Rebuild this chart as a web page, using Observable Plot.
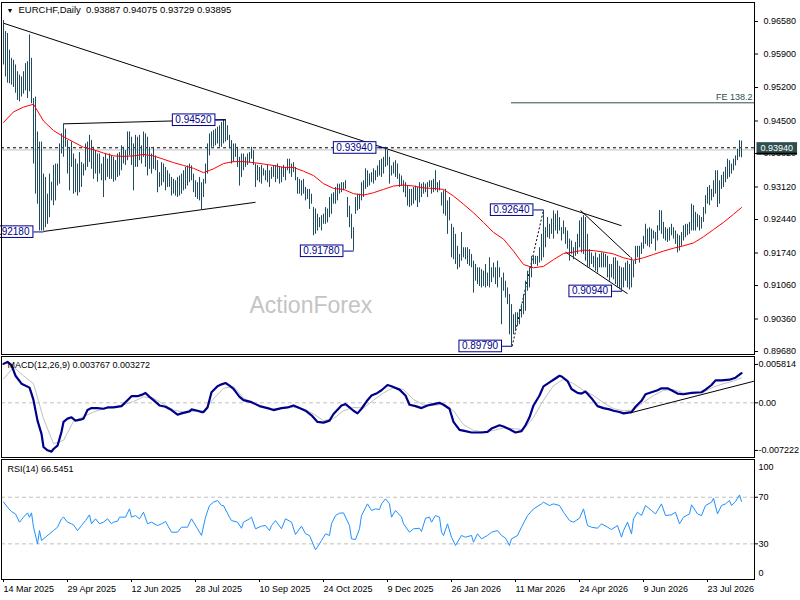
<!DOCTYPE html>
<html><head><meta charset="utf-8">
<script src="https://cdn.jsdelivr.net/npm/d3@7"></script>
<script src="https://cdn.jsdelivr.net/npm/@observablehq/plot@0.6"></script>
<style>
body{margin:0;background:#fff;}
#wrap{position:relative;width:800px;height:600px;overflow:hidden;background:#fff;}
#wrap svg{position:absolute;left:0;}
</style></head><body><div id="wrap"></div>
<script>
// ---------- DATA (prices in units of 0.0001) ----------
const high = [
9660,9637,9633,9598,9581,9577,9567,9553,9546,9542,
9553,9570,9574,9630,9581,9497,9500,9427,9406,9406,
9339,9332,9297,9339,9322,9357,9360,9360,9402,9423,
9444,9433,9409,9395,9406,9381,9370,9360,9384,9363,
9360,9402,9406,9420,9409,9395,9388,9381,9381,9360,
9374,9381,9370,9381,9377,9374,9367,9381,9384,9398,
9395,9388,9427,9427,9416,9402,9420,9416,9420,9398,
9427,9423,9416,9395,9381,9395,9377,9367,9342,9363,
9360,9353,9346,9339,9332,9328,9325,9332,9335,9339,
9346,9353,9356,9360,9356,9339,9325,9321,9332,9321,
9328,9360,9402,9423,9427,9430,9433,9437,9440,9447,
9451,9453,9440,9420,9409,9402,9402,9395,9374,9381,
9381,9374,9381,9384,9395,9388,9360,9357,9353,9357,
9350,9346,9357,9346,9353,9357,9357,9360,9353,9353,
9357,9353,9370,9370,9360,9363,9353,9332,9328,9325,
9328,9311,9307,9307,9297,9269,9266,9255,9248,9252,
9255,9269,9266,9290,9297,9300,9311,9318,9318,9321,
9321,9325,9290,9272,9255,9227,9290,9297,9297,9321,
9325,9350,9346,9339,9342,9350,9346,9356,9367,9370,
9374,9395,9388,9374,9356,9363,9367,9360,9339,9335,
9325,9321,9314,9307,9307,9311,9314,9311,9321,9318,
9321,9318,9321,9325,9325,9328,9346,9321,9325,9300,
9304,9307,9283,9290,9234,9227,9213,9188,9171,9217,
9185,9185,9185,9181,9171,9157,9150,9143,9143,9139,
9136,9150,9132,9164,9143,9153,9143,9157,9143,9122,
9132,9115,9101,9087,9066,9045,9049,9049,9056,9066,
9087,9115,9136,9143,9167,9167,9167,9167,9185,9213,
9263,9227,9248,9234,9245,9262,9255,9262,9248,9227,
9241,9227,9220,9203,9199,9185,9196,9213,9241,9248,
9252,9248,9213,9181,9174,9167,9174,9164,9171,9174,
9174,9171,9167,9150,9150,9164,9164,9157,9146,9143,
9143,9153,9157,9150,9164,9157,9188,9188,9188,9195,
9209,9234,9224,9227,9224,9220,9217,9231,9263,9262,
9238,9227,9224,9227,9234,9227,9220,9213,9210,9217,
9231,9234,9234,9238,9276,9273,9259,9255,9252,9248,
9269,9294,9311,9315,9307,9325,9346,9346,9325,9336,
9343,9353,9370,9367,9360,9370,9377,9391,9409,9408];
const low = [
9567,9542,9529,9528,9525,9520,9508,9493,9490,9500,
9506,9513,9497,9511,9486,9360,9297,9276,9220,9220,
9220,9227,9234,9248,9283,9273,9283,9314,9318,9381,
9374,9395,9339,9304,9353,9297,9300,9293,9300,9311,
9335,9346,9353,9363,9349,9328,9339,9322,9339,9325,
9290,9325,9332,9328,9328,9322,9325,9332,9335,9346,
9360,9357,9367,9377,9357,9304,9353,9353,9367,9360,
9374,9353,9335,9349,9339,9349,9346,9300,9311,9314,
9321,9304,9311,9311,9293,9297,9293,9290,9293,9297,
9304,9307,9314,9321,9325,9300,9290,9286,9283,9263,
9290,9318,9339,9377,9395,9395,9398,9402,9395,9395,
9402,9406,9409,9392,9360,9363,9374,9353,9314,9332,
9346,9353,9357,9363,9370,9357,9311,9325,9321,9318,
9335,9325,9321,9311,9328,9332,9321,9328,9318,9321,
9332,9325,9346,9339,9332,9342,9325,9297,9297,9293,
9297,9283,9286,9265,9276,9210,9213,9220,9227,9220,
9234,9234,9237,9248,9255,9276,9276,9283,9297,9300,
9304,9307,9248,9227,9203,9178,9255,9262,9265,9283,
9290,9307,9311,9314,9321,9318,9325,9332,9335,9332,
9339,9353,9356,9318,9335,9339,9332,9328,9311,9314,
9300,9290,9272,9269,9272,9276,9283,9269,9279,9290,
9297,9300,9290,9311,9297,9300,9304,9300,9304,9272,
9255,9251,9213,9241,9164,9160,9150,9139,9143,9157,
9164,9160,9150,9146,9143,9090,9115,9108,9104,9101,
9104,9101,9104,9101,9112,9122,9108,9101,9122,9024,
9094,9080,9066,9003,8979,9003,9010,9020,9024,9038,
9045,9052,9094,9101,9122,9150,9150,9146,9153,9157,
9164,9185,9206,9203,9213,9203,9220,9213,9220,9199,
9213,9192,9182,9157,9171,9160,9167,9171,9185,9174,
9171,9157,9143,9143,9150,9143,9136,9132,9143,9143,
9143,9143,9122,9115,9122,9118,9108,9101,9097,9094,
9101,9115,9101,9097,9101,9122,9150,9164,9153,9171,
9182,9192,9188,9185,9192,9203,9178,9199,9220,9213,
9203,9199,9196,9199,9210,9203,9192,9174,9178,9188,
9199,9206,9210,9213,9220,9220,9220,9227,9220,9224,
9238,9255,9276,9273,9283,9290,9297,9269,9276,9307,
9311,9321,9328,9332,9339,9346,9356,9367,9374,9373];

// moving average and MACD signal, sampled (bar index)
const sampleIdx = [0,5,10,15,20,25,30,35,40,45,50,55,60,65,70,75,80,85,90,95,100,105,110,115,120,125,130,135,140,145,150,155,160,165,170,175,180,185,190,195,200,205,210,215,220,225,230,235,240,245,250,255,260,265,270,275,280,285,290,295,300,305,310,315,320,325,330,335,340,345,350,355,360,365,369];
const maVals = [9447,9469,9479,9485,9450,9430,9417,9406,9395,9390,9383,9377,9376,9377,9380,9377,9370,9363,9357,9351,9342,9350,9361,9365,9365,9363,9360,9357,9353,9353,9345,9336,9319,9309,9307,9298,9295,9300,9307,9314,9316,9314,9310,9309,9307,9293,9276,9258,9238,9217,9203,9178,9150,9143,9146,9160,9173,9176,9180,9179,9176,9172,9164,9159,9164,9171,9178,9184,9189,9195,9208,9223,9238,9255,9269];
// signal in units of 0.0001
const signalVals = [36,54,41,29,-24,-62,-57,-28,-21,-14,-9,-7,-3,2,9,7,-2,-11,-14,-13,-12,6,22,25,7,0,-7,-9,-8,-7,-9,-17,-27,-24,-12,-7,-8,4,15,23,20,5,-3,-4,-2,-12,-33,-42,-44,-42,-38,-39,-41,-22,4,26,36,29,19,11,0,-9,-12,-11,1,11,19,20,15,15,16,24,29,33,38];
// MACD main line in units of 0.0001
const macdIdx = [0,2,4,6,9,13,14,15,17,19,20,22,24,25,27,29,30,32,34,36,39,40,42,44,47,50,52,55,59,62,64,67,69,71,73,75,78,81,84,87,89,93,94,97,99,100,102,104,107,109,111,113,115,118,120,124,126,128,132,135,139,142,145,148,151,154,157,160,163,165,169,171,173,175,177,179,182,184,187,189,192,194,198,201,203,206,209,212,215,218,220,223,225,228,231,234,239,242,244,248,250,253,256,259,261,263,265,268,270,273,275,278,279,282,284,287,289,291,294,297,300,303,305,308,310,314,316,319,321,324,327,329,332,334,337,340,344,349,351,354,356,359,363,366,369];
const macdVals = [59,62,57,41,29,23,14,4,-27,-47,-67,-72,-74,-70,-65,-44,-29,-24,-22,-27,-25,-24,-11,-8,-8,-9,-7,-7,-5,4,10,10,12,15,9,4,-4,-6,-11,-18,-16,-13,-10,-12,-14,-14,-7,16,25,28,30,26,21,9,4,1,-2,-5,-8,-11,-8,-7,-4,-8,-12,-19,-29,-30,-27,-17,-4,-2,-7,-12,-16,-9,4,11,15,19,27,25,20,11,-3,-5,-8,-4,-2,0,-3,-9,-29,-41,-43,-45,-45,-44,-39,-34,-36,-40,-45,-43,-34,-22,-4,11,25,31,35,41,40,33,21,15,14,17,7,-5,-8,-10,-12,-14,-16,-14,-6,3,13,16,19,22,22,19,14,13,15,16,20,27,34,34,35,38,45];
const rsiIdx = [0,2,4,6,8,10,12,13,14,15,17,18,19,21,23,25,27,29,30,32,34,35,37,39,41,43,44,46,48,50,52,54,55,57,58,61,63,64,66,68,70,72,74,77,79,81,84,87,89,92,94,97,99,101,103,105,107,109,110,113,114,117,119,120,123,124,126,129,131,133,134,136,139,141,144,146,149,151,153,156,158,159,161,163,164,166,168,170,173,174,176,178,179,182,184,186,188,189,191,193,194,196,199,200,203,205,208,209,211,213,214,216,218,219,220,222,224,226,229,231,234,235,237,239,242,244,247,249,251,253,254,257,259,262,265,269,270,273,275,278,280,283,285,288,290,292,294,297,299,302,304,307,309,310,312,314,315,317,319,321,324,326,329,331,334,336,338,340,343,344,347,349,351,354,355,357,359,361,363,364,366,368,369];
const rsiVals = [65.8,61.5,57.7,55.7,48.6,52.9,56.6,52.9,56.6,44.3,30,41.4,32.9,35.7,38.6,41.4,44.3,51.5,52.9,48.6,47.2,46.3,41.4,45.7,50,54.9,47.2,51.5,47.2,48.6,51.5,47.2,48.6,49.4,52.9,52.9,60,52.9,54.3,51.5,57.2,47.2,48.6,45.7,47.2,49.2,40,40,44.3,44.3,51.5,42.9,37.2,52.9,62.9,65.8,67.2,62.9,62.9,52.9,50,48.6,43.4,48.6,51.5,52.9,42.9,45.2,45.7,41.4,45.7,50,42.9,51.5,48.6,38,45.2,38.6,37.2,24.9,30,32.9,38.6,37.2,47.2,54.3,56.3,56.6,45.7,34.3,33.7,42.9,54.3,64.3,58.6,60,59.5,64.3,68.6,64.3,52.9,58.6,53,47.2,40,42.9,43.4,40.6,52,52.9,48.6,54.3,52.9,40,37.2,47.2,35.7,28.6,37.2,35.7,37.2,31.4,38.6,34.3,37.2,40,41.4,37.2,34.9,28.6,34.3,37.2,44.3,54.3,60,64.3,65.8,62.9,64.3,62.9,57.2,50,48.6,52,60,45.7,44.3,43.4,47.2,44.3,42.3,45.7,35.7,41.4,48.6,38.6,51.5,57.2,54.3,62.9,58.6,55.7,64.3,54.3,54.9,57.2,47.2,52.9,55.7,63.5,55.7,54.3,62.9,65.8,69.2,55.7,62.9,64.3,67.2,62.9,66.3,72,66.5];

const priceTicks = [0.9658,0.959,0.952,0.945,0.9382,0.9312,0.9244,0.9174,0.9106,0.9036,0.8968];
const macdTicks = [58.14, 0, -72.22];
const rsiTicks = [70, 30];
const dateTickIdx = [0,32,64,96,128,160,192,224,256,288,320,352];
const dateTickLabels = ["14 Mar 2025","29 Apr 2025","12 Jun 2025","28 Jul 2025","10 Sep 2025","24 Oct 2025","9 Dec 2025","26 Jan 2026","11 Mar 2026","24 Apr 2026","9 Jun 2026","23 Jul 2026"];

const titleText = "EURCHF,Daily\u00a0\u00a00.93887 0.94075 0.93729 0.93895";
const macdTitle = "MACD(12,26,9) 0.003767 0.003272";
const rsiTitle = "RSI(14) 66.5451";
const watermark = "ActionForex";
const levelPrice = 0.9394;
const bidPrice = 0.93895;
const fe = {label: "FE 138.2", price: 0.9488, from: 254};
const trendLines = [
  {i1: 0, p1: 0.96544, i2: 309, p2: 0.92310},
  {i1: 30, p1: 0.9444, i2: 111, p2: 0.9453},
  {i1: 20, p1: 0.9219, i2: 126, p2: 0.9280},
  {i1: 288.5, p1: 0.9263, i2: 313.5, p2: 0.9165},
  {i1: 281, p1: 0.9176, i2: 312, p2: 0.9089}
];
const projLines = [{i1: 254.3, p1: 0.8979, i2: 270, p2: 0.9264}];
const priceLabels = [
  {i: 20, p: 0.9218, t: "0.92180"},
  {i: 111, p: 0.9452, t: "0.94520"},
  {i: 175, p: 0.9178, t: "0.91780"},
  {i: 191.5, p: 0.9394, t: "0.93940"},
  {i: 270, p: 0.9264, t: "0.92640"},
  {i: 309.3, p: 0.9094, t: "0.90940"},
  {i: 254.3, p: 0.8979, t: "0.89790"}
];
const macdTrend = [{i1: 313.5, v1: -15.2, i2: 375.2, v2: 32.7}];

// ---------- TABLES ----------
const bars = high.map((h, i) => ({i, high: h / 1e4, low: low[i] / 1e4}));
const ma = sampleIdx.map((i, k) => ({i, v: maVals[k] / 1e4}));
const macd = macdIdx.map((i, k) => ({i, v: macdVals[k]}));
const signal = sampleIdx.map((i, k) => ({i, v: signalVals[k]}));
const rsi = rsiIdx.map((i, k) => ({i, v: rsiVals[k]}));

// ---------- STYLE ----------
const FONT = "'Liberation Sans', Arial, sans-serif";
const NAVY = "#00008b";
const BAR = "#1f4b5f";
const GRID = "#c0c0c0";
const common = {
  width: 800, marginLeft: 1, marginRight: 46,
  x: {domain: [-1, 375.5], axis: null},
  style: {fontFamily: FONT, fontSize: "9px", background: "white", overflow: "hidden", color: "black"}
};

const main = Plot.plot({
  ...common, height: 356, marginTop: 2, marginBottom: 2,
  y: {domain: [0.896178, 0.969772]},
  marks: [
    Plot.text([watermark], {frameAnchor: "top-left", dx: 248, dy: 294, lineAnchor: "top", textAnchor: "start", fontSize: 23, fill: "#c4c4c4"}),
    Plot.ruleY([bidPrice], {stroke: GRID}),
    Plot.ruleY([levelPrice], {stroke: "black", strokeDasharray: "3,3"}),
    Plot.ruleY([fe.price], {x1: fe.from, x2: 375.5, stroke: "#2f4f4f"}),
    Plot.text([fe.label], {y: fe.price, frameAnchor: "right", textAnchor: "end", dx: -2, dy: -6, fill: "#2f4f4f", fontSize: 9}),
    Plot.link(trendLines, {x1: "i1", y1: "p1", x2: "i2", y2: "p2", stroke: "black", strokeWidth: 1}),
    Plot.link(projLines, {x1: "i1", y1: "p1", x2: "i2", y2: "p2", stroke: "black", strokeDasharray: "2,2"}),
    Plot.ruleX(bars, {x: "i", y1: "low", y2: "high", stroke: BAR, strokeWidth: 1}),
    Plot.line(ma, {x: "i", y: "v", stroke: "#ff0000", strokeWidth: 1}),
    Plot.link(priceLabels, {x1: d => d.i - 5, x2: "i", y1: "p", y2: "p", stroke: NAVY}),
    Plot.text(priceLabels, {x: d => d.i - 5, y: "p", text: "t", textAnchor: "end", dx: -4, fill: NAVY, fontSize: 10}),
    Plot.frame({stroke: "black"}),
    Plot.axisY({anchor: "right", ticks: priceTicks, tickFormat: d => d.toFixed(5), tickSize: 3, fontSize: 9, label: null}),
    Plot.text([levelPrice], {y: d => d, text: d => d.toFixed(5), frameAnchor: "right", dx: 6, textAnchor: "start", fill: "#ffffff", fontSize: 9}),
    Plot.text([titleText], {frameAnchor: "top-left", dx: 17, dy: 4, lineAnchor: "top", textAnchor: "start", fontSize: 9.5}),
    Plot.text(["\u25BC"], {frameAnchor: "top-left", dx: 5, dy: 6, lineAnchor: "top", textAnchor: "start", fontSize: 7})
  ]
});

const macdPlot = Plot.plot({
  ...common, height: 102, marginTop: 0, marginBottom: 1,
  y: {domain: [-82.9, 70.2]},
  marks: [
    Plot.ruleY([0], {stroke: GRID, strokeDasharray: "4,3"}),
    Plot.line(signal, {x: "i", y: "v", stroke: GRID, strokeWidth: 1}),
    Plot.line(macd, {x: "i", y: "v", stroke: NAVY, strokeWidth: 2.2}),
    Plot.link(macdTrend, {x1: "i1", y1: "v1", x2: "i2", y2: "v2", stroke: "black"}),
    Plot.text([macdTitle], {frameAnchor: "top-left", dx: 6, dy: 5, lineAnchor: "top", textAnchor: "start", fontSize: 9}),
    Plot.frame({stroke: "black"}),
    Plot.axisY({anchor: "right", ticks: macdTicks, tickFormat: d => d === 0 ? "0.00" : (d / 1e4).toFixed(6), tickSize: 3, tickPadding: 1, fontSize: 9, label: null})
  ]
});

const rsiPlot = Plot.plot({
  ...common, height: 142, marginTop: 1, marginBottom: 21,
  y: {domain: [-0.6, 102.4]},
  marks: [
    Plot.ruleY(rsiTicks, {stroke: GRID, strokeDasharray: "4,3"}),
    Plot.line(rsi, {x: "i", y: "v", stroke: "#1e90ff", strokeWidth: 1}),
    Plot.text([rsiTitle], {frameAnchor: "top-left", dx: 6, dy: 6, lineAnchor: "top", textAnchor: "start", fontSize: 9}),
    Plot.frame({stroke: "black"}),
    Plot.axisY({anchor: "right", ticks: rsiTicks, tickSize: 3, tickPadding: 1, fontSize: 9, label: null}),
    Plot.text([100], {y: d => d, frameAnchor: "right", dx: 4, dy: 5, textAnchor: "start", fontSize: 9}),
    Plot.text([0], {y: d => d, frameAnchor: "right", dx: 4, dy: -6, textAnchor: "start", fontSize: 9}),
    Plot.axisX({anchor: "bottom", ticks: dateTickIdx, tickFormat: d => dateTickLabels[dateTickIdx.indexOf(d)], tickSize: 3, tickPadding: 3, textAnchor: "start", fontSize: 9, label: null})
  ]
});

const wrap = document.getElementById("wrap");
[[main, 0], [macdPlot, 356], [rsiPlot, 458]].forEach(([svg, top]) => {
  svg.style.position = "absolute";
  svg.style.top = top + "px";
  svg.style.left = "0px";
  wrap.appendChild(svg);
});

// boxes behind label texts
const NS = "http://www.w3.org/2000/svg";
function boxTexts(svg, fillRgb, boxFill, boxStroke, padX, padY, bottomBar) {
  svg.querySelectorAll("text").forEach(t => {
    if (getComputedStyle(t).fill !== fillRgb) return;
    const b = t.getBBox();
    const r = document.createElementNS(NS, "rect");
    r.setAttribute("x", b.x - padX);
    r.setAttribute("y", b.y - padY);
    r.setAttribute("width", b.width + 2 * padX);
    r.setAttribute("height", b.height + 2 * padY);
    r.setAttribute("fill", boxFill);
    r.setAttribute("stroke", boxStroke || "none");
    const tr = t.getAttribute("transform");
    if (tr) r.setAttribute("transform", tr);
    t.parentNode.insertBefore(r, t);
    if (bottomBar) {
      const l = document.createElementNS(NS, "rect");
      l.setAttribute("x", b.x - padX);
      l.setAttribute("y", b.y + b.height + padY - 0.5);
      l.setAttribute("width", b.width + 2 * padX);
      l.setAttribute("height", 2);
      l.setAttribute("fill", "black");
      if (tr) l.setAttribute("transform", tr);
      t.parentNode.insertBefore(l, t);
    }
  });
}
boxTexts(main, "rgb(0, 0, 139)", "white", NAVY, 3, 0.3, false);
boxTexts(main, "rgb(255, 255, 255)", "#2f4f4f", null, 4, 0.5, true);
</script></body></html>
